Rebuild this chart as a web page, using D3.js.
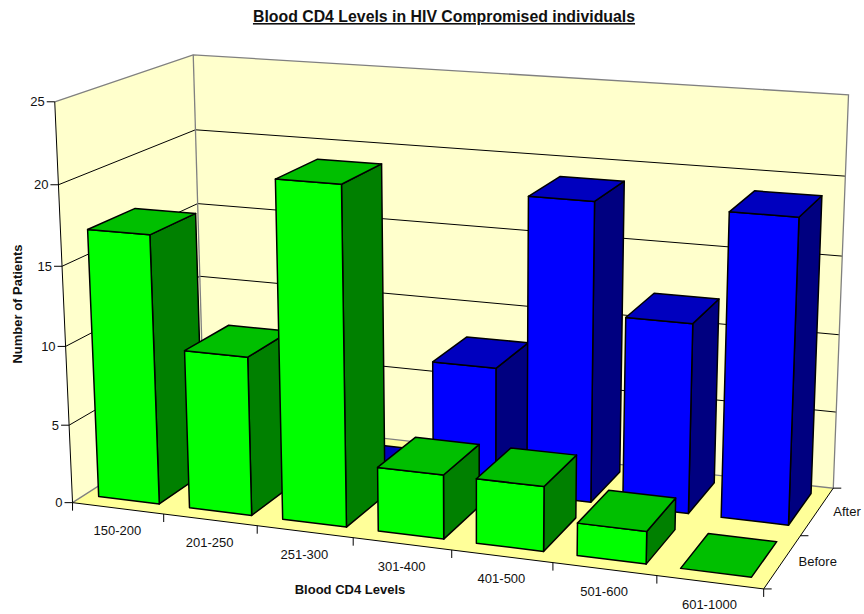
<!DOCTYPE html>
<html><head><meta charset="utf-8">
<style>html,body{margin:0;padding:0;background:#fff}svg{display:block}text{font-family:"Liberation Sans",Arial,sans-serif;fill:#111}</style>
<script src="https://cdn.jsdelivr.net/npm/d3@7"></script>
</head><body><div id="c"></div>
<script>
const categories = ["150-200","201-250","251-300","301-400","401-500","501-600","601-1000"];
const series = ["Before","After"];
const beforeValues = [17,10,21,4,4,2,0];
const afterValues = [0,0,0,8,19,12,19];
const valueTicks = [0,5,10,15,20,25];

const W=864,H=614;
const svg=d3.select("#c").append("svg").attr("width",W).attr("height",H);

// unit cube corners -> screen corners of the plot box
const anchors=[
 [0,0,0,72,501],[1,0,0,764,590],[1,0,1,833,487],[0,0,1,204.5,420],
 [0,1,0,55,102.5],[0,1,1,193,54],[1,1,1,848.5,95]];
function solve(A,b){const n=b.length;const M=A.map((r,i)=>[...r,b[i]]);
 for(let i=0;i<n;i++){let m=i;for(let k=i+1;k<n;k++)if(Math.abs(M[k][i])>Math.abs(M[m][i]))m=k;
  [M[i],M[m]]=[M[m],M[i]];
  for(let k=i+1;k<n;k++){const f=M[k][i]/M[i][i];for(let j=i;j<=n;j++)M[k][j]-=f*M[i][j];}}
 const x=new Array(n).fill(0);
 for(let i=n-1;i>=0;i--){let s=M[i][n];for(let j=i+1;j<n;j++)s-=M[i][j]*x[j];x[i]=s/M[i][i];}
 return x;}
const rows=[],rhs=[];
anchors.forEach(([u,v,w,x,y])=>{
 rows.push([u,v,w,1,0,0,0,0,-x*u,-x*v,-x*w]);rhs.push(x);
 rows.push([0,0,0,0,u,v,w,1,-y*u,-y*v,-y*w]);rhs.push(y);});
const ATA=d3.range(11).map(i=>d3.range(11).map(j=>d3.sum(rows,r=>r[i]*r[j])));
const ATb=d3.range(11).map(i=>d3.sum(rows,(r,k)=>r[i]*rhs[k]));
const p=solve(ATA,ATb);
const proj=(u,v,w)=>{const d=p[8]*u+p[9]*v+p[10]*w+1;
 return [(p[0]*u+p[1]*v+p[2]*w+p[3])/d,(p[4]*u+p[5]*v+p[6]*w+p[7])/d];};

const xScale=d3.scaleBand().domain(categories).range([0,1]);
const yScale=d3.scaleLinear().domain([0,25]).range([0,1]);
const zScale=d3.scaleBand().domain(series).range([0,1]);
const line=d3.line();
const poly=pts=>line(pts)+"Z";

const walls=svg.append("g");
walls.append("path").attr("d",poly([proj(0,0,0),proj(0,1,0),proj(0,1,1),proj(0,0,1)])).attr("fill","#ffffcc");
walls.append("path").attr("d",poly([proj(0,0,1),proj(0,1,1),proj(1,1,1),proj(1,0,1)])).attr("fill","#ffffcc");
walls.append("path").attr("d",poly([proj(0,0,0),proj(1,0,0),proj(1,0,1),proj(0,0,1)])).attr("fill","#ffff99");

const grid=svg.append("g").attr("fill","none").attr("stroke","#000").attr("stroke-width",1);
valueTicks.filter(t=>t>0&&t<25).forEach(t=>{const v=yScale(t);
 grid.append("path").attr("d",line([proj(0,v,0),proj(0,v,1),proj(1,v,1)]));});
const edges=svg.append("g").attr("fill","none").attr("stroke","#808080").attr("stroke-width",1.3);
edges.append("path").attr("d",line([proj(0,1,0),proj(0,1,1),proj(1,1,1),proj(1,0,1),proj(0,0,1),proj(0,0,0)]));
edges.append("path").attr("d",line([proj(0,1,1),proj(0,0,1)]));

// bars: back row first, left to right
const xIn=[0.155,0.825],zIn=[0.17,0.84];
const bars=svg.append("g").attr("stroke","#000").attr("stroke-width",1.5).attr("stroke-linejoin","round");
function bar(cat,s,val,cols){
 const u0=xScale(cat)+xScale.bandwidth()*xIn[0],u1=xScale(cat)+xScale.bandwidth()*xIn[1];
 const w0=zScale(s)+zScale.bandwidth()*zIn[0],w1=zScale(s)+zScale.bandwidth()*zIn[1];
 const v=yScale(val);
 if(val>0){
  bars.append("path").attr("d",poly([proj(u1,0,w0),proj(u1,v,w0),proj(u1,v,w1),proj(u1,0,w1)])).attr("fill",cols[2]);
  bars.append("path").attr("d",poly([proj(u0,0,w0),proj(u1,0,w0),proj(u1,v,w0),proj(u0,v,w0)])).attr("fill",cols[0]);
 }
 bars.append("path").attr("d",poly([proj(u0,v,w0),proj(u1,v,w0),proj(u1,v,w1),proj(u0,v,w1)])).attr("fill",cols[1]);
}
categories.forEach((c,i)=>bar(c,"After",afterValues[i],["#0000ff","#0000bf","#000080"]));
categories.forEach((c,i)=>bar(c,"Before",beforeValues[i],["#00ff00","#00bf00","#008000"]));

// axes
const ax=svg.append("g").attr("fill","none").attr("stroke","#000").attr("stroke-width",1);
ax.append("path").attr("d",line([proj(0,1,0),proj(0,0,0),proj(1,0,0),proj(1,0,1)]));
const lab=svg.append("g").attr("font-size",13);
valueTicks.forEach(t=>{const [x,y]=proj(0,yScale(t),0);
 ax.append("path").attr("d",line([[x-8,y],[x,y]]));
 lab.append("text").attr("x",x-10).attr("y",y+4.5).attr("text-anchor","end").text(t);});
[...categories.map(c=>xScale(c)),1].forEach(u=>{const [x,y]=proj(u,0,0);
 ax.append("path").attr("d",line([[x,y],[x,y+8]]));});
categories.forEach(c=>{const [x,y]=proj(xScale(c)+xScale.bandwidth()/2,0,0);
 lab.append("text").attr("x",x-0.5).attr("y",y+27).attr("text-anchor","middle").text(c);});
[...series.map(s=>zScale(s)),1].forEach(w=>{const [x,y]=proj(1,0,w);
 ax.append("path").attr("d",line([[x,y],[x+8,y]]));});
series.forEach(s=>{const [x,y]=proj(1,0,zScale(s)+zScale.bandwidth()/2);
 lab.append("text").attr("x",x+16).attr("y",y+4.5).text(s);});

svg.append("text").attr("x",444).attr("y",22).attr("text-anchor","middle").attr("font-size",15.85).attr("font-weight","bold").attr("text-decoration","underline").text("Blood CD4 Levels in HIV Compromised individuals");
svg.append("text").attr("x",350).attr("y",594).attr("text-anchor","middle").attr("font-size",13).attr("font-weight","bold").text("Blood CD4 Levels");
svg.append("text").attr("transform","translate(22,304) rotate(-90)").attr("text-anchor","middle").attr("font-size",13).attr("font-weight","bold").text("Number of Patients");
</script></body></html>
